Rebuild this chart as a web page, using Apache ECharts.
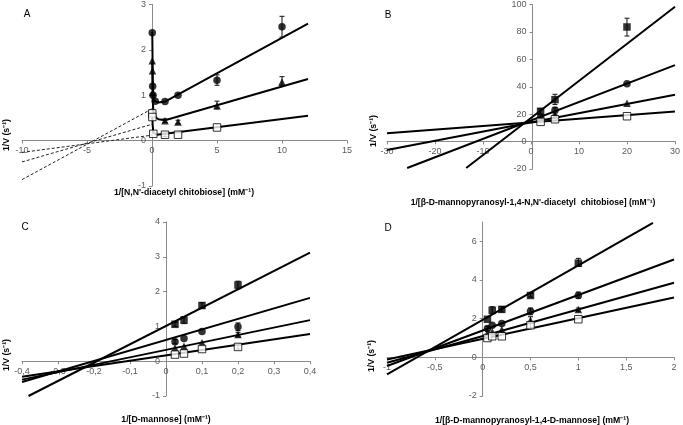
<!DOCTYPE html>
<html><head><meta charset="utf-8">
<script src="https://cdn.jsdelivr.net/npm/echarts@6/dist/echarts.min.js"></script>
<style>html,body{margin:0;padding:0;background:#fff}#c{width:683px;height:425px}</style>
</head><body><div id="c"></div>
<script>
// ---------- Panel A : 1/[N,N'-diacetyl chitobiose] ----------
const A_circles   = [[0.02,2.38],[0.05,1.2],[0.08,1.0],[0.25,0.87],[1,0.86],[2,1.0],[5,1.33],[10,2.51]];
const A_triangles = [[0.02,1.76],[0.04,1.54],[0.06,1.06],[1,0.44],[2,0.41],[5,0.77],[10,1.29]];
const A_open      = [[0.02,0.6],[0.03,0.52],[0.1,0.15],[1,0.13],[2,0.13],[5,0.29]];
const A_circleFit   = [[0.02,2.4],[0.06,1.3],[0.1,1.0],[0.2,0.87],[0.5,0.84],[1,0.86],[12,2.58]];
const A_triangleFit = [[0.02,1.72],[0.05,0.95],[0.1,0.66],[0.25,0.52],[0.5,0.47],[1,0.45],[12,1.36]];
const A_openFit     = [[0.02,0.6],[0.05,0.35],[0.1,0.18],[0.35,0.13],[1,0.15],[12,0.55]];
const A_circleExt   = [[-10,-0.86],[0,0.70]];
const A_triangleExt = [[-10,-0.47],[0,0.36]];
const A_openExt     = [[-10,-0.26],[0,0.12]];
const A_errors = [[10,2.28,2.74],[5,1.22,1.45],[10,1.22,1.41],[5,0.7,0.87],[1,0.4,0.48],[2,0.37,0.45],[1,0.09,0.17]];

// ---------- Panel B : 1/[β-D-mannopyranosyl-1,4-N,N'-diacetyl chitobiose] ----------
const B_squares   = [[2,22.1],[5,30.6],[20,83.6]];
const B_circles   = [[2,17.8],[5,22.8],[20,42.1]];
const B_triangles = [[2,16.8],[5,19.2],[20,28.0]];
const B_open      = [[2,14.4],[5,16.3],[20,18.5]];
const B_squareFit   = [[-13.5,-19.3],[30,98.3]];
const B_circleFit   = [[-25.8,-19.3],[30,55.8]];
const B_triangleFit = [[-30,-6.1],[30,34.1]];
const B_openFit     = [[-30,6.0],[30,22.0]];
const B_errors = [[20,77,90],[5,27,34.5],[2,20,24],[5,20,25]];

// ---------- Panel C : 1/[D-mannose] ----------
const C_squares   = [[0.025,1.06],[0.05,1.18],[0.1,1.6],[0.2,2.19]];
const C_circles   = [[0.025,0.56],[0.05,0.65],[0.1,0.85],[0.2,0.99]];
const C_triangles = [[0.025,0.38],[0.05,0.43],[0.1,0.53],[0.2,0.77]];
const C_open      = [[0.025,0.19],[0.05,0.22],[0.1,0.35],[0.2,0.41]];
const C_squareFit   = [[-0.382,-1.0],[0.4,3.12]];
const C_circleFit   = [[-0.4,-0.60],[0.4,1.82]];
const C_triangleFit = [[-0.4,-0.53],[0.4,1.18]];
const C_openFit     = [[-0.4,-0.45],[0.4,0.78]];
const C_errors = [[0.2,2.08,2.3],[0.1,1.52,1.68],[0.05,1.08,1.28],[0.025,1.0,1.12],[0.2,0.88,1.1],[0.025,0.5,0.62],[0.2,0.7,0.83],[0.2,0.35,0.47]];

// ---------- Panel D : 1/[β-D-mannopyranosyl-1,4-D-mannose] ----------
const D_squares   = [[0.05,1.97],[0.1,2.43],[0.2,2.48],[0.5,3.2],[1,4.87]];
const D_circles   = [[0.05,1.49],[0.1,1.66],[0.2,1.75],[0.5,2.38],[1,3.2]];
const D_triangles = [[0.05,1.26],[0.1,1.32],[0.2,1.44],[0.5,1.92],[1,2.47]];
const D_open      = [[0.05,1.0],[0.1,1.09],[0.2,1.09],[0.5,1.66],[1,1.97]];
const D_squareFit   = [[-1,-0.88],[1.78,6.95]];
const D_circleFit   = [[-1,-0.45],[2,5.06]];
const D_triangleFit = [[-1,-0.28],[2,3.86]];
const D_openFit     = [[-1,-0.11],[2,3.09]];
const D_errors = [[1,4.7,5.12],[0.1,2.25,2.62],[0.2,2.35,2.62],[0.5,3.12,3.3],[1,3.05,3.38],[0.5,2.2,2.55],[0.05,1.35,1.6],[0.5,1.75,2.1],[1,2.38,2.55],[0.5,1.5,1.82]];

// ---------- Axis ranges / ticks ----------
const X_ranges = [[-10,15,5],[-30,30,10],[-0.4,0.4,0.1],[-1,2,0.5]];
const Y_ranges = [[-1,3,1],[-20,100,20],[-1,4,1],[-2,7,2]];

const X_titles = ["1/[N,N'-diacetyl chitobiose] (mM\u207B\u00B9)",
  "1/[\u03B2-D-mannopyranosyl-1,4-N,N'-diacetyl  chitobiose] (mM\u207B\u00B9)",
  "1/[D-mannose] (mM\u207B\u00B9)",
  "1/[\u03B2-D-mannopyranosyl-1,4-D-mannose] (mM\u207B\u00B9)"];
const Y_title = "1/V (s\u207B\u00B9)";
const Panel_labels = ["A","B","C","D"];

const FONT = "'Liberation Sans', Arial, sans-serif";
const grids = [
  {left:22, top:4, width:325, height:182},
  {left:387, top:3, width:291, height:166},
  {left:22, top:222, width:288, height:174},
  {left:387, top:222, width:287, height:174}
];
function fmt(v){
  if (Math.abs(v) < 1e-9) return '0';
  return String(Math.round(v*10)/10).replace('.', ',');
}
const axisCommon = {
  axisLine:{onZero:false, lineStyle:{color:'#8a8a8a', width:1}},
  axisTick:{show:true, length:3, lineStyle:{color:'#8a8a8a'}},
  splitLine:{show:false}
};
// place each axis through the other axis' zero (layout offset inside the grid)
const xAxis = X_ranges.map((r,i)=>{
  const yr = Y_ranges[i];
  const off = -grids[i].height * (0 - yr[0]) / (yr[1] - yr[0]);
  return Object.assign({}, axisCommon, {
    type:'value', gridIndex:i, min:r[0], max:r[1], interval:r[2], position:'bottom', offset:off,
    axisLabel:{color:'#5a5a5a', fontSize:9, fontFamily:FONT, margin:6, formatter:fmt}
  });
});
const yAxis = Y_ranges.map((r,i)=>{
  const xr = X_ranges[i];
  const off = -grids[i].width * (0 - xr[0]) / (xr[1] - xr[0]);
  return Object.assign({}, axisCommon, {
    type:'value', gridIndex:i, min:r[0], max:r[1], interval:r[2], position:'left', offset:off,
    axisLabel:{color:'#5a5a5a', fontSize:9, fontFamily:FONT, margin:6, formatter:fmt, showMaxLabel: i!==3}
  });
});

function errRender(params, api){
  const x=api.value(0), lo=api.value(1), hi=api.value(2);
  const a=api.coord([x,lo]), b=api.coord([x,hi]);
  const w=2.5, st={stroke:'#111', lineWidth:1};
  return {type:'group', children:[
    {type:'line', shape:{x1:a[0],y1:a[1],x2:b[0],y2:b[1]}, style:st},
    {type:'line', shape:{x1:a[0]-w,y1:a[1],x2:a[0]+w,y2:a[1]}, style:st},
    {type:'line', shape:{x1:b[0]-w,y1:b[1],x2:b[0]+w,y2:b[1]}, style:st}
  ]};
}
const series = [];
function fit(i, data, dashed){
  series.push({type:'line', xAxisIndex:i, yAxisIndex:i, data:data, symbol:'none', silent:true, z:2,
    lineStyle: dashed ? {color:'#222', width:1, type:[3,2]} : {color:'#000', width:2}});
}
function pts(i, data, kind){
  const s = {type:'scatter', xAxisIndex:i, yAxisIndex:i, data:data, z:5};
  if (kind==='circle'){ s.symbol='circle'; s.symbolSize=7.5; s.itemStyle={color:'#000'}; }
  if (kind==='triangle'){ s.symbol='triangle'; s.symbolSize=7.5; s.itemStyle={color:'#000'}; }
  if (kind==='square'){ s.symbol='rect'; s.symbolSize=7.5; s.itemStyle={color:'#000'}; }
  if (kind==='open'){ s.symbol='rect'; s.symbolSize=7.5; s.itemStyle={color:'#fff', borderColor:'#000', borderWidth:1}; }
  series.push(s);
}
function errs(i, data){
  series.push({type:'custom', xAxisIndex:i, yAxisIndex:i, data:data, renderItem:errRender, encode:{x:0, y:[1,2]}, z:4, silent:true});
}
// A
fit(0,A_circleExt,true); fit(0,A_triangleExt,true); fit(0,A_openExt,true);
fit(0,A_circleFit); fit(0,A_triangleFit); fit(0,A_openFit);
errs(0,A_errors);
pts(0,A_circles,'circle'); pts(0,A_triangles,'triangle'); pts(0,A_open,'open');
// B
fit(1,B_squareFit); fit(1,B_circleFit); fit(1,B_triangleFit); fit(1,B_openFit);
errs(1,B_errors);
pts(1,B_squares,'square'); pts(1,B_circles,'circle'); pts(1,B_triangles,'triangle'); pts(1,B_open,'open');
// C
fit(2,C_squareFit); fit(2,C_circleFit); fit(2,C_triangleFit); fit(2,C_openFit);
errs(2,C_errors);
pts(2,C_squares,'square'); pts(2,C_circles,'circle'); pts(2,C_triangles,'triangle'); pts(2,C_open,'open');
// D
fit(3,D_squareFit); fit(3,D_circleFit); fit(3,D_triangleFit); fit(3,D_openFit);
errs(3,D_errors);
pts(3,D_squares,'square'); pts(3,D_circles,'circle'); pts(3,D_triangles,'triangle'); pts(3,D_open,'open');

function txt(t, x, y, opts){
  opts = opts || {};
  return {type:'text', x:x, y:y, rotation: opts.rot || 0, silent:true,
    style:{text:t, fill:'#000', font:(opts.weight||'bold')+' '+(opts.size||8.7)+'px '+FONT,
      align:'center', verticalAlign:'middle', textAlign:'center', textVerticalAlign:'middle'}};
}
const graphic = [
  txt(Panel_labels[0], 27, 14, {size:10, weight:'normal'}),
  txt(Panel_labels[1], 388, 15, {size:10, weight:'normal'}),
  txt(Panel_labels[2], 25, 227, {size:10, weight:'normal'}),
  txt(Panel_labels[3], 388, 228, {size:10, weight:'normal'}),
  txt(X_titles[0], 184, 193), txt(X_titles[1], 533, 203, {size:8.6}),
  txt(X_titles[2], 166, 420), txt(X_titles[3], 532, 421),
  txt(Y_title, 7, 135, {rot:Math.PI/2}), txt(Y_title, 374, 131, {rot:Math.PI/2}),
  txt(Y_title, 7, 355, {rot:Math.PI/2}), txt(Y_title, 372, 356, {rot:Math.PI/2})
];

const chart = echarts.init(document.getElementById('c'), null, {renderer:'canvas'});
chart.setOption({
  animation:false, backgroundColor:'#fff',
  grid:grids, xAxis:xAxis, yAxis:yAxis, series:series, graphic:graphic
});
</script></body></html>
